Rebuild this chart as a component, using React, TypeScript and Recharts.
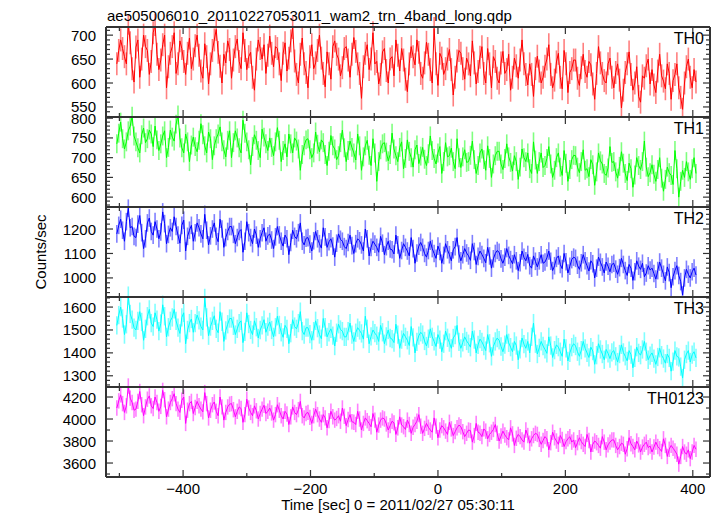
import React from "react";
import { LineChart, Line, XAxis, YAxis, ErrorBar } from "recharts";

// time in seconds from 2011/02/27 05:30:11 (3 s bins)
const times = [
  -504, -501, -498, -495, -492, -489, -486, -483, -480, -477, -474, -471, -468, -465, -462, -459, -456, -453, -450, -447,
  -444, -441, -438, -435, -432, -429, -426, -423, -420, -417, -414, -411, -408, -405, -402, -399, -396, -393, -390, -387,
  -384, -381, -378, -375, -372, -369, -366, -363, -360, -357, -354, -351, -348, -345, -342, -339, -336, -333, -330, -327,
  -324, -321, -318, -315, -312, -309, -306, -303, -300, -297, -294, -291, -288, -285, -282, -279, -276, -273, -270, -267,
  -264, -261, -258, -255, -252, -249, -246, -243, -240, -237, -234, -231, -228, -225, -222, -219, -216, -213, -210, -207,
  -204, -201, -198, -195, -192, -189, -186, -183, -180, -177, -174, -171, -168, -165, -162, -159, -156, -153, -150, -147,
  -144, -141, -138, -135, -132, -129, -126, -123, -120, -117, -114, -111, -108, -105, -102, -99, -96, -93, -90, -87,
  -84, -81, -78, -75, -72, -69, -66, -63, -60, -57, -54, -51, -48, -45, -42, -39, -36, -33, -30, -27,
  -24, -21, -18, -15, -12, -9, -6, -3, 0, 3, 6, 9, 12, 15, 18, 21, 24, 27, 30, 33,
  36, 39, 42, 45, 48, 51, 54, 57, 60, 63, 66, 69, 72, 75, 78, 81, 84, 87, 90, 93,
  96, 99, 102, 105, 108, 111, 114, 117, 120, 123, 126, 129, 132, 135, 138, 141, 144, 147, 150, 153,
  156, 159, 162, 165, 168, 171, 174, 177, 180, 183, 186, 189, 192, 195, 198, 201, 204, 207, 210, 213,
  216, 219, 222, 225, 228, 231, 234, 237, 240, 243, 246, 249, 252, 255, 258, 261, 264, 267, 270, 273,
  276, 279, 282, 285, 288, 291, 294, 297, 300, 303, 306, 309, 312, 315, 318, 321, 324, 327, 330, 333,
  336, 339, 342, 345, 348, 351, 354, 357, 360, 363, 366, 369, 372, 375, 378, 381, 384, 387, 390, 393,
  396, 399, 402, 405,
];

const th0 = [
  640, 668, 690, 672, 655, 640, 725, 684, 630, 602, 675, 690, 612, 650, 700, 676, 668, 618, 645, 705,
  722, 660, 628, 648, 680, 700, 590, 634, 662, 676, 705, 620, 640, 688, 672, 645, 618, 662, 694, 630,
  650, 678, 700, 658, 625, 610, 682, 655, 598, 640, 668, 690, 712, 664, 635, 600, 660, 642, 688, 670,
  610, 648, 676, 692, 645, 630, 705, 668, 628, 655, 664, 612, 585, 650, 690, 672, 650, 680, 620, 658,
  698, 662, 634, 676, 672, 640, 605, 662, 684, 625, 652, 688, 716, 646, 618, 600, 660, 694, 640, 622,
  590, 655, 680, 630, 642, 668, 700, 652, 620, 592, 665, 640, 608, 676, 688, 660, 650, 615, 632, 672,
  676, 648, 612, 660, 695, 666, 640, 620, 568, 634, 662, 680, 628, 650, 705, 640, 645, 598, 618, 665,
  672, 626, 600, 650, 655, 615, 690, 658, 625, 672, 648, 608, 582, 640, 676, 655, 638, 690, 664, 620,
  610, 642, 685, 660, 628, 600, 714, 640, 595, 662, 652, 618, 630, 650, 670, 628, 575, 612, 646, 668,
  662, 630, 608, 652, 640, 615, 688, 642, 598, 624, 654, 676, 620, 600, 672, 640, 590, 655, 645, 610,
  600, 642, 666, 620, 628, 660, 585, 612, 652, 636, 610, 648, 690, 640, 618, 596, 640, 618, 572, 630,
  656, 625, 600, 612, 635, 650, 680, 618, 590, 606, 644, 662, 612, 588, 668, 640, 580, 622, 630, 648,
  648, 610, 595, 632, 660, 624, 612, 645, 638, 598, 566, 620, 676, 642, 620, 605, 600, 640, 652, 612,
  590, 622, 640, 606, 548, 585, 622, 640, 665, 618, 585, 600, 634, 572, 560, 615, 610, 636, 650, 598,
  628, 596, 580, 625, 660, 615, 604, 588, 640, 620, 566, 605, 618, 640, 590, 570, 545, 600, 634, 650,
  612, 590, 628, 602,
];

const th1 = [
  735, 762, 790, 748, 722, 740, 768, 780, 805, 755, 740, 725, 712, 758, 775, 738, 748, 770, 760, 728,
  780, 745, 718, 735, 755, 768, 700, 726, 770, 752, 742, 785, 808, 750, 725, 712, 760, 740, 690, 732,
  752, 728, 715, 744, 786, 758, 730, 712, 765, 748, 695, 730, 748, 760, 778, 740, 720, 702, 744, 768,
  700, 738, 768, 750, 725, 712, 795, 762, 740, 720, 682, 728, 758, 744, 718, 700, 772, 752, 735, 718,
  750, 726, 705, 740, 776, 744, 690, 718, 735, 702, 760, 735, 712, 750, 742, 722, 668, 708, 730, 745,
  748, 720, 700, 712, 765, 734, 715, 745, 738, 708, 680, 716, 756, 730, 722, 695, 705, 738, 770, 725,
  690, 718, 742, 726, 712, 694, 760, 730, 668, 702, 730, 744, 706, 680, 748, 712, 640, 690, 720, 735,
  738, 714, 692, 708, 762, 722, 705, 690, 726, 740, 672, 698, 745, 716, 700, 676, 720, 732, 685, 704,
  726, 696, 680, 710, 755, 718, 698, 684, 712, 728, 660, 690, 738, 702, 705, 724, 690, 672, 748, 700,
  675, 702, 720, 688, 690, 706, 742, 695, 660, 680, 712, 722, 695, 668, 730, 698, 650, 684, 705, 716,
  716, 684, 670, 698, 735, 702, 688, 666, 705, 690, 645, 676, 722, 700, 690, 712, 672, 660, 740, 694,
  660, 690, 712, 675, 680, 698, 728, 684, 650, 668, 700, 712, 676, 655, 718, 686, 640, 670, 695, 706,
  705, 676, 662, 690, 720, 668, 672, 652, 695, 682, 630, 664, 712, 692, 684, 660, 655, 674, 728, 688,
  690, 664, 648, 678, 715, 686, 660, 642, 686, 672, 625, 656, 700, 680, 670, 690, 742, 676, 652, 662,
  682, 658, 640, 670, 700, 648, 615, 645, 676, 662, 655, 632, 718, 672, 600, 640, 668, 650, 690, 664,
  645, 672, 700, 660,
];

const th2 = [
  1180, 1215, 1240, 1195, 1150, 1230, 1285, 1205, 1210, 1170, 1165, 1220, 1255, 1185, 1120, 1160, 1225, 1245, 1190, 1175,
  1230, 1200, 1160, 1188, 1270, 1222, 1140, 1178, 1205, 1190, 1250, 1210, 1175, 1142, 1215, 1236, 1110, 1170, 1195, 1215,
  1150, 1185, 1225, 1205, 1180, 1160, 1260, 1195, 1135, 1172, 1200, 1225, 1170, 1148, 1240, 1200, 1125, 1165, 1190, 1210,
  1210, 1178, 1140, 1165, 1190, 1198, 1105, 1150, 1230, 1185, 1165, 1140, 1200, 1175, 1125, 1160, 1185, 1205, 1150, 1172,
  1180, 1155, 1120, 1168, 1210, 1176, 1150, 1130, 1175, 1160, 1095, 1145, 1195, 1170, 1160, 1185, 1225, 1150, 1135, 1162,
  1165, 1138, 1110, 1152, 1190, 1160, 1140, 1122, 1205, 1168, 1125, 1148, 1160, 1130, 1085, 1142, 1180, 1158, 1150, 1128,
  1120, 1145, 1175, 1132, 1100, 1140, 1160, 1152, 1135, 1110, 1200, 1160, 1090, 1125, 1150, 1138, 1125, 1105, 1170, 1142,
  1095, 1128, 1150, 1118, 1115, 1098, 1175, 1135, 1080, 1112, 1140, 1125, 1110, 1090, 1165, 1120, 1060, 1102, 1130, 1145,
  1125, 1100, 1085, 1112, 1150, 1120, 1100, 1080, 1130, 1108, 1060, 1092, 1140, 1115, 1095, 1070, 1115, 1128, 1165, 1098,
  1070, 1095, 1120, 1102, 1090, 1072, 1140, 1108, 1055, 1088, 1110, 1096, 1080, 1062, 1125, 1090, 1040, 1078, 1100, 1112,
  1105, 1078, 1060, 1085, 1120, 1092, 1075, 1058, 1095, 1070, 1030, 1062, 1110, 1084, 1070, 1096, 1050, 1040, 1090, 1068,
  1045, 1070, 1095, 1060, 1065, 1082, 1110, 1068, 1030, 1050, 1080, 1090, 1055, 1038, 1100, 1066, 1020, 1048, 1075, 1085,
  1080, 1052, 1035, 1062, 1095, 1070, 1050, 1028, 1070, 1058, 1000, 1040, 1085, 1064, 1045, 1020, 1065, 1048, 1025, 1055,
  1060, 1036, 1015, 1042, 1080, 1055, 1030, 1010, 1055, 1040, 990, 1025, 1070, 1048, 1035, 1060, 1005, 1020, 1050, 1032,
  1040, 1018, 995, 1030, 1065, 1040, 1015, 988, 1045, 1022, 960, 1005, 1030, 1050, 1010, 985, 930, 1000, 1035, 1015,
  1000, 1025, 1040, 1012,
];

const th3 = [
  1520, 1565, 1600, 1550, 1480, 1525, 1650, 1570, 1545, 1510, 1500, 1540, 1580, 1535, 1455, 1505, 1560, 1590, 1530, 1515,
  1575, 1545, 1495, 1528, 1610, 1560, 1470, 1512, 1540, 1555, 1590, 1540, 1510, 1485, 1555, 1575, 1440, 1500, 1530, 1548,
  1490, 1530, 1565, 1542, 1515, 1500, 1640, 1555, 1475, 1515, 1540, 1562, 1505, 1488, 1580, 1536, 1450, 1498, 1525, 1550,
  1550, 1518, 1480, 1505, 1530, 1540, 1445, 1492, 1575, 1526, 1500, 1480, 1540, 1512, 1465, 1500, 1520, 1545, 1490, 1515,
  1535, 1500, 1470, 1512, 1560, 1522, 1490, 1468, 1520, 1505, 1440, 1486, 1545, 1515, 1505, 1530, 1580, 1495, 1480, 1510,
  1510, 1482, 1455, 1495, 1540, 1508, 1480, 1462, 1550, 1512, 1470, 1490, 1505, 1475, 1430, 1488, 1525, 1502, 1495, 1470,
  1470, 1495, 1530, 1480, 1450, 1488, 1510, 1498, 1485, 1460, 1560, 1505, 1440, 1472, 1500, 1486, 1475, 1450, 1520, 1490,
  1440, 1472, 1500, 1465, 1460, 1445, 1525, 1480, 1420, 1458, 1485, 1470, 1455, 1432, 1515, 1468, 1400, 1448, 1475, 1490,
  1480, 1452, 1430, 1462, 1505, 1470, 1450, 1428, 1480, 1458, 1405, 1440, 1495, 1466, 1445, 1420, 1465, 1478, 1520, 1448,
  1420, 1446, 1470, 1452, 1440, 1425, 1495, 1458, 1400, 1435, 1460, 1448, 1430, 1410, 1480, 1442, 1385, 1428, 1450, 1465,
  1455, 1428, 1405, 1436, 1480, 1444, 1425, 1405, 1450, 1432, 1370, 1415, 1465, 1438, 1420, 1450, 1400, 1470, 1530, 1440,
  1395, 1422, 1450, 1430, 1415, 1398, 1470, 1432, 1380, 1412, 1435, 1425, 1405, 1385, 1460, 1420, 1365, 1400, 1425, 1440,
  1430, 1405, 1385, 1412, 1450, 1420, 1400, 1380, 1425, 1408, 1350, 1390, 1440, 1415, 1395, 1370, 1415, 1398, 1375, 1402,
  1410, 1385, 1360, 1395, 1435, 1402, 1385, 1365, 1410, 1392, 1335, 1378, 1425, 1400, 1390, 1415, 1450, 1405, 1370, 1388,
  1400, 1375, 1350, 1382, 1420, 1390, 1375, 1355, 1395, 1378, 1320, 1362, 1410, 1385, 1380, 1340, 1290, 1370, 1395, 1410,
  1360, 1392, 1405, 1378,
];

const th0123 = [
  4100, 4165, 4220, 4140, 4060, 4120, 4300, 4190, 4150, 4080, 4090, 4160, 4250, 4130, 4030, 4110, 4180, 4210, 4120, 4095,
  4200, 4150, 4070, 4115, 4260, 4175, 4020, 4090, 4150, 4185, 4230, 4140, 4090, 4060, 4170, 4200, 3960, 4080, 4140, 4160,
  4050, 4105, 4160, 4120, 4090, 4065, 4240, 4140, 4010, 4080, 4130, 4155, 4070, 4030, 4200, 4110, 3990, 4060, 4110, 4135,
  4140, 4085, 4020, 4070, 4110, 4095, 3970, 4040, 4180, 4100, 4060, 4030, 4120, 4075, 4000, 4050, 4090, 4125, 4050, 4070,
  4100, 4055, 3990, 4040, 4130, 4080, 4030, 4000, 4070, 4045, 3950, 4020, 4110, 4060, 4040, 4085, 4160, 4030, 4010, 4050,
  4060, 4015, 3960, 4030, 4090, 4040, 4000, 3970, 4040, 4010, 3920, 3985, 4070, 4020, 3990, 4005, 4030, 3980, 4100, 4025,
  3940, 3995, 4040, 3975, 3970, 3950, 4070, 4000, 3900, 3960, 4010, 3985, 3960, 3930, 4050, 3990, 3880, 3945, 3990, 4010,
  4000, 3955, 3900, 3940, 3980, 3965, 3860, 3920, 4020, 3945, 3930, 3905, 3990, 3950, 3870, 3925, 3950, 3980, 4040, 3935,
  3870, 3915, 3960, 3925, 3900, 3880, 4010, 3935, 3830, 3900, 3940, 3920, 3890, 3860, 3970, 3910, 3850, 3885, 3920, 3945,
  3930, 3885, 3840, 3870, 3900, 3895, 3790, 3850, 3960, 3880, 3870, 3840, 3910, 3890, 3820, 3860, 3880, 3905, 3950, 3870,
  3800, 3845, 3890, 3855, 3830, 3810, 3920, 3865, 3760, 3825, 3860, 3840, 3810, 3790, 3900, 3850, 3780, 3820, 3850, 3870,
  3860, 3815, 3770, 3805, 3840, 3820, 3720, 3785, 3880, 3830, 3800, 3770, 3850, 3815, 3750, 3795, 3820, 3840, 3790, 3810,
  3740, 3785, 3830, 3795, 3770, 3750, 3860, 3805, 3700, 3770, 3800, 3785, 3760, 3735, 3840, 3790, 3720, 3765, 3790, 3810,
  3810, 3760, 3720, 3750, 3780, 3770, 3680, 3730, 3830, 3775, 3750, 3720, 3800, 3765, 3700, 3745, 3770, 3790, 3740, 3755,
  3700, 3745, 3790, 3750, 3730, 3705, 3820, 3760, 3660, 3725, 3760, 3735, 3710, 3680, 3590, 3660, 3750, 3700, 3680, 3720,
  3640, 3700, 3760, 3725,
];

// typical 1-sigma error of each band (counts/sec)
const bandErrors = [24, 24, 36, 40, 70];

// axis ticks (all tick marks) and which of them get a label
const xTicks = [-500, -400, -300, -200, -100, 0, 100, 200, 300, 400];
const xLabels = [-400, -200, 0, 200, 400];

const th0Ticks = [530, 540, 550, 560, 570, 580, 590, 600, 610, 620, 630, 640, 650, 660, 670, 680, 690, 700, 710];
const th0Labels = [550, 600, 650, 700];
const th1Ticks = [580, 590, 600, 610, 620, 630, 640, 650, 660, 670, 680, 690, 700, 710, 720, 730, 740, 750, 760, 770, 780, 790, 800];
const th1Labels = [600, 650, 700, 750, 800];
const th2Ticks = [940, 960, 980, 1000, 1020, 1040, 1060, 1080, 1100, 1120, 1140, 1160, 1180, 1200, 1220, 1240, 1260, 1280];
const th2Labels = [1000, 1100, 1200];
const th3Ticks = [1260, 1280, 1300, 1320, 1340, 1360, 1380, 1400, 1420, 1440, 1460, 1480, 1500, 1520, 1540, 1560, 1580, 1600, 1620, 1640];
const th3Labels = [1300, 1400, 1500, 1600];
const th0123Ticks = [3500, 3600, 3700, 3800, 3900, 4000, 4100, 4200];
const th0123Labels = [3600, 3800, 4000, 4200];

const panels = [
  { name: "TH0", color: "#ff0000", values: th0, domain: [529, 717], ticks: th0Ticks, labels: th0Labels },
  { name: "TH1", color: "#00ff00", values: th1, domain: [575, 803], ticks: th1Ticks, labels: th1Labels },
  { name: "TH2", color: "#0000ff", values: th2, domain: [922, 1290], ticks: th2Ticks, labels: th2Labels },
  { name: "TH3", color: "#00ffff", values: th3, domain: [1251, 1644], ticks: th3Ticks, labels: th3Labels },
  { name: "TH0123", color: "#ff00ff", values: th0123, domain: [3473, 4291], ticks: th0123Ticks, labels: th0123Labels },
];

const FONT = "'Liberation Sans', Arial, Helvetica, sans-serif";
const FRAME = "#333";
const TOP = 27;
const PANEL_H = 90;
const PAD = 12; // room above each plot so top tick labels are not clipped
const X_DOMAIN = [-521, 427];

function fmt(v: number) {
  return v < 0 ? "\u2212" + Math.abs(v) : String(v);
}

function XTick(props: any) {
  const { x, y, payload, side, showLabel } = props;
  const major = xLabels.includes(payload.value);
  const len = major ? 7 : 4;
  const dir = side === "top" ? 1 : -1;
  return (
    <g>
      <line x1={x} x2={x} y1={y} y2={y + dir * len} stroke={FRAME} strokeWidth={1.2} />
      {showLabel && major && (
        <text x={x} y={y + 17} textAnchor="middle" fontSize={15} fontFamily={FONT} fill="#000">
          {fmt(payload.value)}
        </text>
      )}
    </g>
  );
}

function YTick(props: any) {
  const { x, y, payload, side, labels } = props;
  const major = labels.includes(payload.value);
  const len = major ? 7 : 4;
  const dir = side === "left" ? 1 : -1;
  return (
    <g>
      <line x1={x} x2={x + dir * len} y1={y} y2={y} stroke={FRAME} strokeWidth={1.2} />
      {side === "left" && major && (
        <text x={x - 10} y={y + 5.5} textAnchor="end" fontSize={15} fontFamily={FONT} fill="#000">
          {payload.value}
        </text>
      )}
    </g>
  );
}

function Panel({ p, index, last }: any) {
  const data = times.map((t, i) => ({ t, v: p.values[i], e: bandErrors[index] }));
  const bottomH = last ? 40 : 1;
  return (
    <div style={{ position: "absolute", left: 0, top: TOP + index * PANEL_H - 1 - PAD }}>
      <LineChart
        width={719}
        height={PAD + 1 + PANEL_H + bottomH}
        data={data}
        margin={{ top: PAD, right: 8, bottom: 0, left: 56 }}
      >
        <XAxis
          xAxisId="b"
          dataKey="t"
          type="number"
          domain={X_DOMAIN}
          allowDataOverflow
          ticks={xTicks}
          interval={0}
          height={bottomH}
          tickSize={0}
          tickMargin={0}
          axisLine={{ stroke: FRAME, strokeWidth: 2 }}
          tickLine={false}
          tick={(tp: any) => <XTick {...tp} side="bottom" showLabel={last} />}
        />
        <XAxis
          xAxisId="t"
          orientation="top"
          dataKey="t"
          type="number"
          domain={X_DOMAIN}
          allowDataOverflow
          ticks={xTicks}
          interval={0}
          height={1}
          tickSize={0}
          tickMargin={0}
          axisLine={{ stroke: FRAME, strokeWidth: 2 }}
          tickLine={false}
          tick={(tp: any) => <XTick {...tp} side="top" showLabel={false} />}
        />
        <YAxis
          yAxisId="l"
          type="number"
          domain={p.domain}
          allowDataOverflow
          ticks={p.ticks}
          interval={0}
          width={50}
          tickSize={0}
          tickMargin={0}
          axisLine={{ stroke: FRAME, strokeWidth: 2 }}
          tickLine={false}
          tick={(tp: any) => <YTick {...tp} side="left" labels={p.labels} />}
        />
        <YAxis
          yAxisId="r"
          orientation="right"
          type="number"
          domain={p.domain}
          allowDataOverflow
          ticks={p.ticks}
          interval={0}
          width={1}
          tickSize={0}
          tickMargin={0}
          axisLine={{ stroke: FRAME, strokeWidth: 2 }}
          tickLine={false}
          tick={(tp: any) => <YTick {...tp} side="right" labels={p.labels} />}
        />
        <Line
          xAxisId="b"
          yAxisId="l"
          type="linear"
          dataKey="v"
          stroke={p.color}
          strokeWidth={1}
          dot={false}
          isAnimationActive={false}
        >
          <ErrorBar dataKey="e" direction="y" width={0} stroke={p.color} strokeOpacity={0.5} strokeWidth={1.6} />
        </Line>
      </LineChart>
    </div>
  );
}

export default function App() {
  return (
    <div style={{ position: "absolute", left: 0, top: 0, width: 719, height: 516, background: "#fff" }}>
      {panels.map((p, i) => (
        <Panel key={p.name} p={p} index={i} last={i === panels.length - 1} />
      ))}
      <svg width={719} height={516} style={{ position: "absolute", left: 0, top: 0, pointerEvents: "none" }}>
        <text x={107} y={21} fontSize={15} fontFamily={FONT} fill="#000">
          ae505006010_20110227053011_wam2_trn_4band_long.qdp
        </text>
        {panels.map((p, i) => (
          <text key={p.name} x={704} y={TOP + i * PANEL_H + 17} textAnchor="end" fontSize={16} fontFamily={FONT} fill="#000">
            {p.name}
          </text>
        ))}
        <text x={46} y={252} transform="rotate(-90 46 252)" textAnchor="middle" fontSize={15} fontFamily={FONT} fill="#000">
          Counts/sec
        </text>
        <text x={398} y={510} textAnchor="middle" fontSize={15} fontFamily={FONT} fill="#000">
          Time [sec] 0 = 2011/02/27 05:30:11
        </text>
      </svg>
    </div>
  );
}
